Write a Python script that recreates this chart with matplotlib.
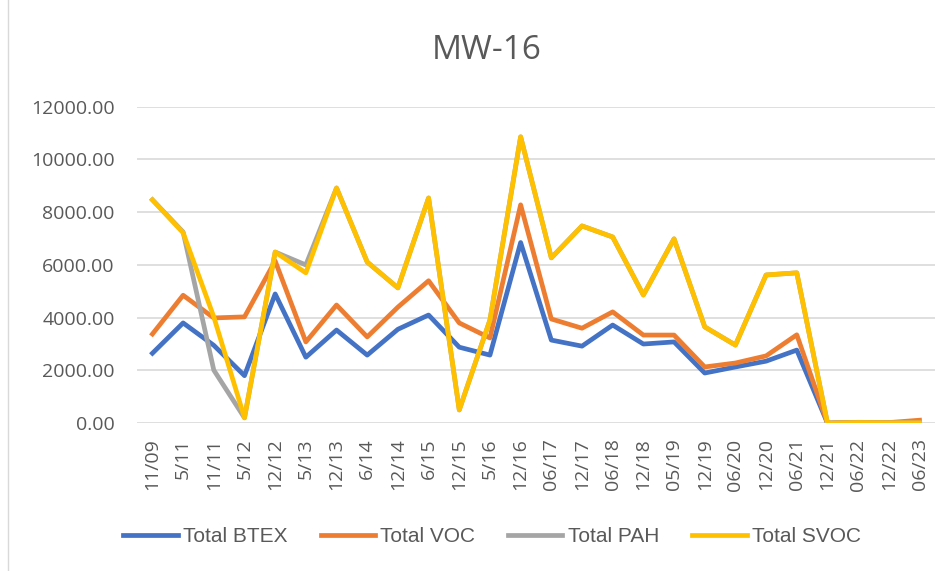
import matplotlib.pyplot as plt
from matplotlib.lines import Line2D

plt.rcParams['font.family'] = ['Open Sans', 'DejaVu Sans']

dates = ["11/09", "5/11", "11/11", "5/12", "12/12", "5/13", "12/13", "6/14", "12/14",
         "6/15", "12/15", "5/16", "12/16", "06/17", "12/17", "06/18", "12/18", "05/19",
         "12/19", "06/20", "12/20", "06/21", "12/21", "06/22", "12/22", "06/23"]

btex = [2650, 3800, 2950, 1800, 4900, 2500, 3530, 2580, 3560, 4100, 2880, 2580, 6850,
        3150, 2920, 3720, 3000, 3080, 1900, 2130, 2350, 2770, 0, 20, 10, 30]
voc = [3380, 4850, 3990, 4030, 6150, 3080, 4480, 3270, 4400, 5400, 3800, 3230, 8280,
       3950, 3600, 4220, 3340, 3340, 2130, 2280, 2550, 3350, 0, 30, 20, 110]
pah = [8470, 7250, 2010, 200, 6490, 6000, 8920, 6110, 5130, 8540, 500, 3910, 10860,
       6270, 7480, 7060, 4860, 6990, 3650, 2960, 5620, 5700, 0, 20, 10, 10]
svoc = [8470, 7220, 4030, 200, 6490, 5700, 8920, 6110, 5130, 8540, 500, 3910, 10860,
        6270, 7480, 7060, 4860, 6990, 3650, 2960, 5620, 5700, 0, 20, 10, 10]

fig = plt.figure(figsize=(9.52, 5.71), dpi=100)
ax = fig.add_axes([0.144, 0.259, 0.838, 0.554])

x = list(range(len(dates)))
ax.plot(x, btex, color="#4472C4", lw=3.4, label="Total BTEX", solid_joinstyle="round")
ax.plot(x, voc, color="#ED7D31", lw=3.4, label="Total VOC", solid_joinstyle="round")
ax.plot(x, pah, color="#A5A5A5", lw=3.4, label="Total PAH", solid_joinstyle="round")
ax.plot(x, svoc, color="#FFC000", lw=3.4, label="Total SVOC", solid_joinstyle="round")

ax.set_xlim(-0.5, len(dates) - 0.5)
ax.set_ylim(0, 12000)
ax.set_yticks(range(0, 12001, 2000))
ax.set_yticklabels([f"{v:.2f}" for v in range(0, 12001, 2000)])
ax.set_xticks(x)
ax.set_xticklabels(dates, rotation=90)
ax.tick_params(colors="#595959", labelsize=14, length=0)
ax.tick_params(axis="y", pad=16)
ax.tick_params(axis="x", pad=11)
ax.grid(axis="y", color="#D9D9D9", lw=1.2)
ax.set_axisbelow(True)
for s in ax.spines.values():
    s.set_visible(False)

fig.suptitle("MW-16", x=0.511, y=0.912, va="center", fontsize=24, color="#595959")

leg = ax.legend(loc="center", bbox_to_anchor=(0.445, -0.36), ncol=4, frameon=False,
                labelcolor="#595959", handlelength=2.6, handletextpad=0.25,
                columnspacing=1.6,
                prop={"family": ["Liberation Sans", "DejaVu Sans"], "size": 15})

# chart border fragment on the left
fig.add_artist(Line2D([0.008, 0.008], [0.0, 1.0], transform=fig.transFigure,
                      color="#D9D9D9", lw=1))

fig.savefig("out.png", dpi=100)
